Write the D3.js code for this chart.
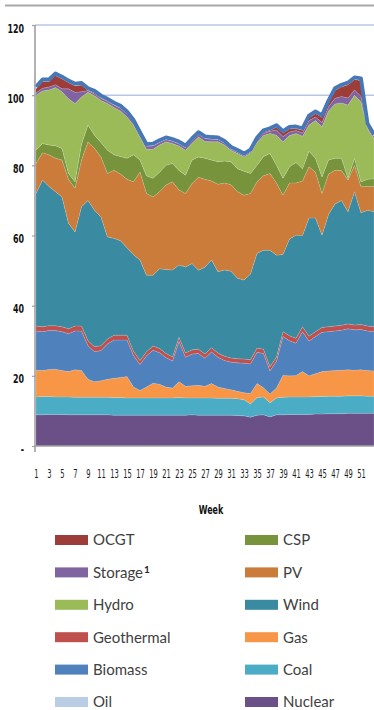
<!DOCTYPE html>
<html>
<head>
<meta charset="utf-8">
<script src="https://cdn.jsdelivr.net/npm/d3@7"></script>
<style>
  body { margin: 0; background: #ffffff; }
  svg { display: block; }
</style>
</head>
<body>
<svg id="chart" width="374" height="710"></svg>
<script>
// Weekly generation mix (stacked, weeks 1-53)
const weeks = [1,2,3,4,5,6,7,8,9,10,11,12,13,14,15,16,17,18,19,20,21,22,23,24,25,26,27,28,29,30,31,32,33,34,35,36,37,38,39,40,41,42,43,44,45,46,47,48,49,50,51,52,53];

const nuclear = [8.9,8.9,9.0,9.0,9.0, 8.9,8.9,8.9,8.9,8.9, 8.9,8.9,8.8,8.8,8.8, 8.8,8.8,8.8,8.8,8.8, 8.8,8.8,8.8,8.8,8.9, 8.8,8.8,8.8,8.8,8.8, 8.8,8.7,8.6,8.2,8.8, 8.9,8.3,8.9,8.9,9.0, 9.0,9.0,9.0,9.1,9.1, 9.2,9.2,9.2,9.3,9.3, 9.3,9.3,9.3];
const coal = [5.1,5.2,5.1,5.0,5.0, 5.1,5.0,5.0,5.0,5.0, 5.0,5.0,5.0,5.0,4.9, 4.9,4.9,4.9,4.9,4.9, 4.9,4.9,5.0,4.9,4.8, 4.9,4.9,4.9,4.8,4.8, 4.8,4.8,4.6,3.8,5.0, 5.1,4.0,4.8,5.0,5.0, 5.0,5.0,5.0,5.0,5.0, 5.0,5.0,5.0,5.0,5.0, 5.0,4.9,4.9];
const gas = [7.6,7.4,7.7,7.9,7.5, 7.2,7.8,7.6,5.1,4.4, 4.7,5.1,5.5,5.7,6.1, 3.1,2.1,3.1,4.2,3.9, 3.1,2.8,4.5,3.3,3.5, 3.6,3.3,4.1,3.2,2.8, 2.4,2.1,2.0,3.0,4.0, 2.6,2.5,2.8,6.3,6.0, 6.1,7.2,6.0,6.5,7.1, 7.2,7.3,7.4,7.4,7.3, 7.4,7.3,7.2];
const biomass = [11.2,11.1,11.1,11.0,11.1, 10.8,11.1,11.3,9.6,8.6, 8.6,10.1,10.9,10.7,10.4, 9.0,7.4,8.9,9.4,9.0, 8.4,7.7,11.5,8.3,9.0, 9.1,8.0,9.0,8.5,8.0, 7.9,8.1,8.4,8.4,8.9, 9.8,6.6,7.7,11.0,10.0, 9.2,11.4,9.9,10.6,11.2, 11.2,11.3,11.4,11.7,11.5, 11.5,11.3,11.2];
const geothermal = [1.4,1.4,1.4,1.4,1.4, 1.4,1.4,1.4,1.4,1.4, 1.4,1.4,1.4,1.4,1.4, 1.2,1.2,1.2,1.2,1.2, 1.2,1.2,1.2,1.2,1.2, 1.2,1.2,1.2,1.2,1.2, 1.2,1.2,1.2,1.2,1.2, 1.2,1.2,1.2,1.4,1.4, 1.4,1.4,1.4,1.4,1.4, 1.4,1.4,1.4,1.4,1.4, 1.4,1.4,1.4];
const wind = [37.8,41.8,39.7,38.2,37.0, 30.1,26.8,34.0,40.0,38.9, 36.7,29.1,27.6,26.9,24.9, 27.5,28.6,21.8,20.2,22.7, 23.9,24.8,20.6,24.5,24.6, 22.5,24.8,25.0,23.2,24.6, 24.7,22.9,22.5,24.4,27.0, 28.2,33.2,29.0,22.0,27.6, 29.4,26.0,33.7,32.4,26.3, 32.0,34.8,35.6,32.0,38.0, 31.9,33.0,32.8];
const pv = [8.5,7.8,9.0,9.5,10.5, 12.5,12.5,13.3,16.7,17.7, 17.1,18.1,19.4,19.0,19.5, 20.8,25.1,23.3,22.3,22.0, 24.1,25.1,21.4,21.0,22.8, 26.5,25.0,22.5,24.9,24.8, 24.7,24.7,24.2,23.0,20.4, 21.2,21.9,20.6,16.9,16.0, 14.9,15.5,14.6,13.0,11.9, 11.5,9.6,8.5,9.0,7.5, 7.4,6.8,7.2];
const csp = [3.8,2.6,2.8,3.6,3.3, 1.7,1.8,4.5,4.8,3.7, 4.1,6.6,4.4,5.0,6.0, 7.7,3.4,5.0,5.3,5.5, 5.6,5.2,5.5,5.2,6.7, 5.8,6.0,6.0,6.4,6.2, 6.5,6.5,6.8,5.7,4.7, 5.5,5.7,5.0,4.8,4.6, 5.8,3.5,4.4,4.0,4.7, 4.0,3.4,3.5,0.5,2.0, 1.4,2.0,2.2];
const hydro = [15.7,15.0,15.7,16.6,16.2, 21.3,22.3,13.5,9.3,11.2, 12.0,13.3,13.5,13.0,11.8, 8.5,6.6,7.6,8.3,7.8, 6.7,5.7,7.0,7.1,4.8, 5.7,4.8,5.2,5.7,4.6, 3.3,4.4,4.1,5.8,6.5, 6.0,5.7,8.6,10.4,8.9, 8.3,9.3,7.5,10.8,14.3, 14.0,15.5,15.8,20.9,18.0, 22.8,14.5,11.3];
const storage = [0.6,0.8,0.8,0.8,0.8, 2.8,3.2,1.5,0.5,0.5, 0.6,0.6,0.7,0.8,0.9, 0.9,0.8,0.9,1.0,0.8, 0.7,0.7,0.7,0.8,0.8, 0.8,0.9,0.8,0.7,0.6, 0.4,0.4,0.4,0.4,0.8, 0.6,0.6,1.5,1.5,1.0, 0.8,0.9,1.3,1.0,1.2, 1.2,1.6,1.8,2.0,1.5, 1.6,0.3,0.3];
const ocgt = [1.2,1.9,1.6,2.6,2.9, 1.8,1.9,1.9,0.1,0.4, 0.2,0.2,0.1,0.1,0.1, 0,0,0,0,0, 0,0,0,0,0, 0,0,0,0,0, 0,0,0,0,0, 0.3,0.3,0.8,1.0,0.9, 0.6,0.8,0.8,1.0,1.5, 1.2,2.3,2.8,3.8,3.0, 4.5,0.6,0.4];
const oil = [0,0,0,0,0, 0,0,0,0,0, 0,0,0,0,0, 0,0,0,0,0, 0,0,0,0,0, 0,0,0,0,0, 0,0,0,0,0, 0,0,0,0,0, 0,0,0,0,0, 0,0,0,0,0, 0,0,0];

const yTicks = [0, 20, 40, 60, 80, 100, 120];
const weekLabels = [1,3,5,7,9,11,13,15,17,19,21,23,25,27,29,31,33,35,37,39,41,43,45,47,49,51];

// Stack order, bottom to top
const series = [
  { key: "Nuclear",    values: nuclear,    color: "#6b4f87" },
  { key: "Coal",       values: coal,       color: "#4bacc6" },
  { key: "Gas",        values: gas,        color: "#f79646" },
  { key: "Biomass",    values: biomass,    color: "#4f81bd" },
  { key: "Geothermal", values: geothermal, color: "#c0504d" },
  { key: "Wind",       values: wind,       color: "#3a8ba1" },
  { key: "PV",         values: pv,         color: "#cb7b3a" },
  { key: "CSP",        values: csp,        color: "#77933c" },
  { key: "Hydro",      values: hydro,      color: "#9bbb59" },
  { key: "Storage",    values: storage,    color: "#8064a2" },
  { key: "OCGT",       values: ocgt,       color: "#9c3d3a" },
  { key: "Oil",        values: oil,        color: "#b9cde5" }
];

const rows = weeks.map((w, i) => {
  const r = { week: w };
  series.forEach(s => { r[s.key] = s.values[i]; });
  return r;
});

const stacked = d3.stack().keys(series.map(s => s.key))(rows);
const colorOf = Object.fromEntries(series.map(s => [s.key, s.color]));

const svg = d3.select("#chart");
const x = d3.scaleLinear().domain([1, 53]).range([36, 374]);
const y = d3.scaleLinear().domain([0, 120]).range([446, 25]);

const narrow = "'Liberation Sans Narrow', 'DejaVu Sans Condensed', sans-serif";
const squeeze = 0.68; // horizontal compression of the axis lettering

// Rule across the top of the panel
svg.append("line")
  .attr("x1", 5).attr("x2", 374).attr("y1", 5.5).attr("y2", 5.5)
  .attr("stroke", "#a8a8a8").attr("stroke-width", 2);

// Horizontal gridlines
svg.append("g")
  .selectAll("line")
  .data(yTicks.filter(t => t > 0))
  .join("line")
  .attr("x1", 35).attr("x2", 374)
  .attr("y1", d => y(d)).attr("y2", d => y(d))
  .attr("stroke", "#b7c7e2").attr("stroke-width", 1.5);

// Stacked areas
const area = d3.area()
  .x(d => x(d.data.week))
  .y0(d => y(d[0]))
  .y1(d => y(d[1]));

svg.append("g")
  .selectAll("path")
  .data(stacked)
  .join("path")
  .attr("d", area)
  .attr("fill", d => colorOf[d.key])
  .attr("stroke", "rgba(255,255,255,0.22)")
  .attr("stroke-width", 0.6);

// Outline along the top of the stack
const topLine = d3.line()
  .x(d => x(d.data.week))
  .y(d => y(d[1]) - 2);

svg.append("path")
  .attr("d", topLine(stacked[stacked.length - 1]))
  .attr("fill", "none")
  .attr("stroke", "#4677b6")
  .attr("stroke-width", 3.8)
  .attr("stroke-linejoin", "round");

// Y axis
const yAxis = svg.append("g")
  .attr("transform", "translate(35,0)")
  .call(d3.axisLeft(y)
    .tickValues(yTicks)
    .tickSize(3)
    .tickFormat(d => d === 0 ? "-" : String(d)));
yAxis.select(".domain").remove();
yAxis.selectAll(".tick line").attr("stroke", "#a0a0a0").attr("stroke-width", 1.2);
yAxis.selectAll(".tick text")
  .attr("fill", "#111111")
  .attr("font-family", narrow)
  .attr("font-weight", "bold")
  .attr("font-size", 13)
  .attr("x", null)
  .attr("dy", "0.62em")
  .attr("y", -1)
  .attr("transform", `translate(-11,0) scale(${squeeze},1)`);

svg.append("line")
  .attr("x1", 35).attr("x2", 35).attr("y1", 25).attr("y2", 452)
  .attr("stroke", "#9a9a9a").attr("stroke-width", 1.5);

// X axis
const xAxis = svg.append("g")
  .attr("transform", "translate(0,446)")
  .call(d3.axisBottom(x)
    .tickValues(weekLabels)
    .tickSize(0)
    .tickFormat(d => String(d)));
xAxis.select(".domain").remove();
xAxis.selectAll(".tick text")
  .attr("y", 23)
  .attr("fill", "#1a1a1a")
  .attr("font-family", narrow)
  .attr("font-size", 12.5)
  .attr("transform", "scale(0.6,1)");

svg.append("line")
  .attr("x1", 35).attr("x2", 374).attr("y1", 446).attr("y2", 446)
  .attr("stroke", "#a0a0a0").attr("stroke-width", 1.5);

// Axis title
svg.append("text")
  .attr("transform", `translate(211,514) scale(${squeeze},1)`)
  .attr("text-anchor", "middle")
  .attr("font-family", narrow)
  .attr("font-weight", "bold")
  .attr("font-size", 13)
  .attr("fill", "#111111")
  .text("Week");

// Legend
const legendItems = [
  { label: "OCGT", key: "OCGT", col: 0, row: 0 },
  { label: "Storage", sup: "1", key: "Storage", col: 0, row: 1 },
  { label: "Hydro", key: "Hydro", col: 0, row: 2 },
  { label: "Geothermal", key: "Geothermal", col: 0, row: 3 },
  { label: "Biomass", key: "Biomass", col: 0, row: 4 },
  { label: "Oil", key: "Oil", col: 0, row: 5 },
  { label: "CSP", key: "CSP", col: 1, row: 0 },
  { label: "PV", key: "PV", col: 1, row: 1 },
  { label: "Wind", key: "Wind", col: 1, row: 2 },
  { label: "Gas", key: "Gas", col: 1, row: 3 },
  { label: "Coal", key: "Coal", col: 1, row: 4 },
  { label: "Nuclear", key: "Nuclear", col: 1, row: 5 }
];
const colX = [55, 245];
const rowY = d => 540 + d * 32.4;

const lg = svg.append("g");
const item = lg.selectAll("g")
  .data(legendItems)
  .join("g")
  .attr("transform", d => `translate(${colX[d.col]},${rowY(d.row)})`);

item.append("rect")
  .attr("x", 0).attr("y", -5)
  .attr("width", 33).attr("height", 10)
  .attr("fill", d => colorOf[d.key]);

const label = item.append("text")
  .attr("x", 38).attr("y", 0)
  .attr("dy", "0.36em")
  .attr("font-family", "Lato, 'Open Sans', sans-serif")
  .attr("font-size", 15)
  .attr("fill", "#3f3f3f");
label.append("tspan").text(d => d.label);
label.filter(d => d.sup)
  .append("tspan")
  .attr("dx", 1).attr("dy", "-0.45em")
  .attr("font-size", 10).attr("font-weight", "bold")
  .attr("fill", "#262626")
  .text(d => d.sup);
</script>
</body>
</html>
